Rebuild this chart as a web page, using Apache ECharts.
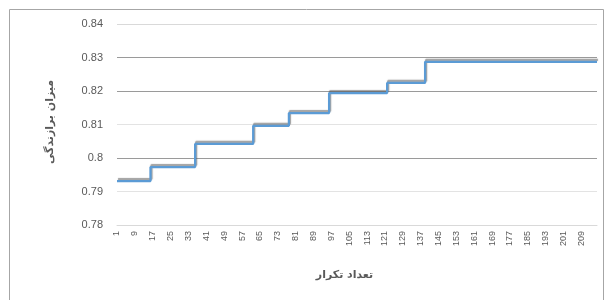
<!DOCTYPE html>
<html>
<head>
<meta charset="utf-8">
<script src="https://cdn.jsdelivr.net/npm/echarts@6/dist/echarts.min.js"></script>
<style>
html,body{margin:0;padding:0;background:#fff;}
#c{width:605px;height:300px;}
</style>
</head>
<body>
<div id="c"></div>
<script>
// Iteration numbers (categories) 1..216
var iterations = [];
for (var i = 1; i <= 216; i++) iterations.push(String(i));
// Iterations where the best value changes, and the value from then on
var changeIterations = ['1', '16', '36', '62', '78', '96', '122', '139', '216'];
var bestValues = [0.7931, 0.7973, 0.8042, 0.8096, 0.8134, 0.8194, 0.8224, 0.8287, 0.8287];
var yTicks = [0.78, 0.79, 0.8, 0.81, 0.82, 0.83, 0.84];
var xTitle = 'تعداد تکرار';
var yTitle = 'میزان برازندگی';

var seriesData = changeIterations.map(function (c, k) { return [c, bestValues[k]]; });

var chart = echarts.init(document.getElementById('c'));
chart.setOption({
  backgroundColor: '#fff',
  animation: false,
  graphic: [{
    type: 'rect',
    shape: { x: 9.5, y: 9.5, width: 594, height: 300 },
    style: { fill: 'none', stroke: '#a6a6a6', lineWidth: 1 },
    silent: true
  }, {
    type: 'text',
    x: 50, y: 122,
    rotation: Math.PI / 2,
    style: {
      text: yTitle, fill: '#595959', font: 'bold 11px "DejaVu Sans"',
      align: 'center', verticalAlign: 'middle'
    }
  }],
  grid: { left: 117, right: 8, top: 24, bottom: 75 },
  xAxis: {
    type: 'category',
    data: iterations,
    boundaryGap: false,
    name: xTitle,
    nameLocation: 'middle',
    nameGap: 45,
    nameTextStyle: { color: '#595959', fontSize: 11, fontWeight: 'bold', fontFamily: 'DejaVu Sans', padding: [0, 25, 0, 0] },
    axisLine: { show: true, lineStyle: { color: '#d9d9d9' } },
    axisTick: { show: false },
    axisLabel: {
      interval: 7, rotate: 90, color: '#595959', fontSize: 9,
      fontFamily: 'Liberation Sans', margin: 6
    },
    splitLine: { show: false }
  },
  yAxis: {
    type: 'value',
    min: yTicks[0], max: yTicks[yTicks.length - 1], interval: 0.01,
    axisLine: { show: false },
    axisTick: { show: false },
    axisLabel: { color: '#595959', fontSize: 11, fontFamily: 'Liberation Sans', margin: 14 },
    splitLine: {
      show: true,
      lineStyle: { color: ['#d9d9d9', '#e3e3e3', '#9a9a9a', '#e3e3e3', '#9a9a9a', '#9a9a9a', '#d9d9d9'], width: 1 }
    }
  },
  series: [{
    type: 'line',
    step: 'end',
    data: seriesData,
    symbol: 'none',
    lineStyle: {
      color: '#5b9bd5', width: 2.25,
      shadowColor: 'rgba(80,80,80,0.55)', shadowBlur: 1, shadowOffsetY: -2, shadowOffsetX: 1
    }
  }]
});
</script>
</body>
</html>
